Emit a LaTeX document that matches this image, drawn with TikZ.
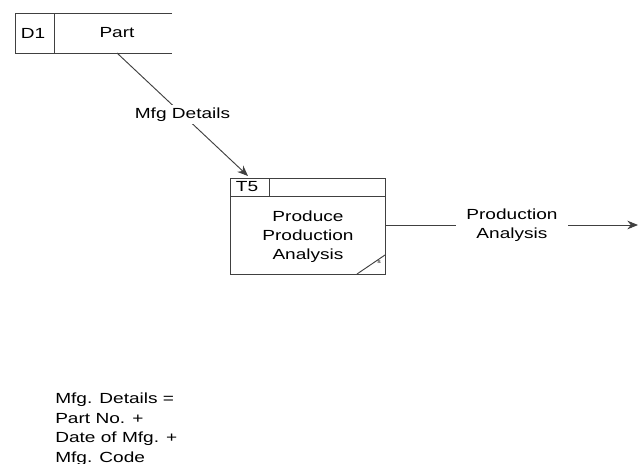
\documentclass[tikz,border=0pt]{standalone}
\usepackage{fontspec}
\setmainfont[FakeStretch=1.3]{Liberation Sans}
\usetikzlibrary{arrows.meta}
\begin{document}
\begin{tikzpicture}[x=0.75pt,y=-0.75pt,
  ln/.style={draw=black!75,line width=0.7pt},
  flow/.style={ln,-{Stealth[length=8pt,width=6.5pt]}},
  txt/.style={font=\fontsize{11}{14.6}\selectfont,align=center,inner sep=0pt},
  lbl/.style={txt,fill=white,inner xsep=8pt,inner ysep=2pt}]
\useasboundingbox (0,0) rectangle (639,464);
% Data store D1
\draw[ln] (172,13) -- (15,13) -- (15,53) -- (172,53);
\draw[ln] (54,13) -- (54,53);
\node[txt] (d1id) at (33,33) {D1};
\node[txt] (d1) at (117,33) {Part};
\coordinate (d1out) at (117,53);
% Process T5
\node[ln,rectangle,minimum width=155*0.75pt,minimum height=96*0.75pt,inner sep=0pt] (t5) at (308,226) {};
\draw[ln] (230,196) -- (386,196);
\draw[ln] (269,178) -- (269,196);
\node[txt] (t5id) at (247,187) {T5};
\node[txt] (t5txt) at (308,237) {Produce\\[-0.5pt]Production\\[-0.5pt]Analysis};
\draw[ln] (357,274) -- (385,255);
\node[txt,font=\fontsize{4}{4}\selectfont] (t5mark) at (379,262) {s};
\coordinate (t5in) at (248,176);
\coordinate (out) at (638,225);
% flows
\draw[flow] (d1out) -- node[lbl] (mfg) {Mfg Details} (t5in);
\draw[flow] (t5.east |- out) -- node[lbl] (pa) {Production\\Analysis} (out);
% data dictionary
\node[txt,align=left,anchor=north west] (dict) at (55,393) {Mfg. Details =\\Part No. +\\Date of Mfg. +\\Mfg. Code};
\end{tikzpicture}
\end{document}
